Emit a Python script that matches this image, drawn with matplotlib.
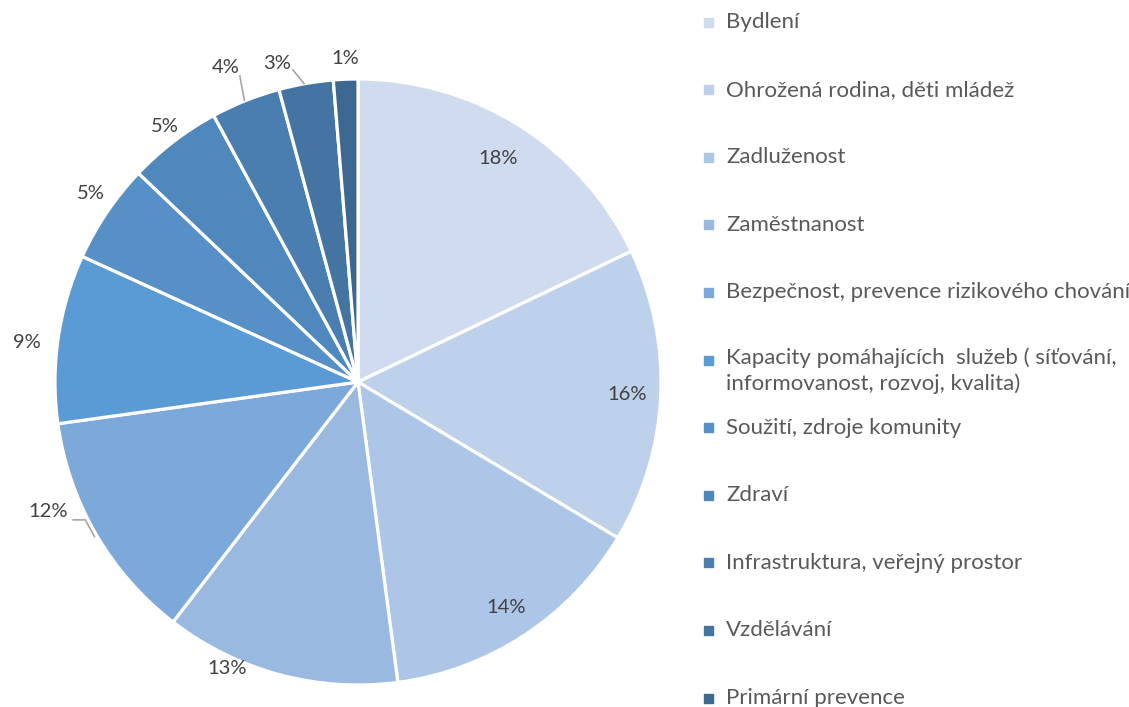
import numpy as np
import matplotlib.pyplot as plt

categories = [
    "Bydlení",
    "Ohrožená rodina, děti mládež",
    "Zadluženost",
    "Zaměstnanost",
    "Bezpečnost, prevence rizikového chování",
    "Kapacity pomáhajících  služeb ( síťování,\ninformovanost, rozvoj, kvalita)",
    "Soužití, zdroje komunity",
    "Zdraví",
    "Infrastruktura, veřejný prostor",
    "Vzdělávání",
    "Primární prevence",
]
shares = [17.9, 15.7, 14.3, 12.55, 12.35, 9.0, 5.3, 5.0, 3.7, 2.9, 1.3]

colors = ["#CFDCEF", "#BDD1EB", "#ADC6E7", "#9AB9E0", "#7CA9DA", "#5B9BD5",
          "#5690C7", "#4E88BC", "#4A7EB0", "#4474A1", "#3B6791"]

# label placement: radius factor and angle tweak (deg) per slice
label_r = [0.87, 0.89, 0.89, 1.04, 1.11, 1.10, 1.08, 1.056, 1.125, 1.086, 1.07]
label_da = [0, 0, 0, -9.5, -7.5, 1.5, -1.2, -0.4, 1.1, 4.4, 0]

W, H = 1129, 707
fig = plt.figure(figsize=(W / 100, H / 100), dpi=100)
cx, cy, R = 358, 382, 303
ax = fig.add_axes([(cx - R) / W, (H - cy - R) / H, 2 * R / W, 2 * R / H])

wedges, _ = ax.pie(shares, colors=colors, startangle=90, counterclock=False,
                   radius=1, wedgeprops=dict(edgecolor="white", linewidth=2.3))
ax.set_xlim(-1, 1)
ax.set_ylim(-1, 1)
ax.axis("off")

for i, w in enumerate(wedges):
    ang = np.deg2rad((w.theta1 + w.theta2) / 2 + label_da[i])
    x, y = label_r[i] * np.cos(ang), label_r[i] * np.sin(ang)
    ax.text(x, y, "%.0f%%" % shares[i], ha="center", va="center",
            fontsize=14.5, family="Lato", color="#404040", clip_on=False)

# leader lines for a few outside labels
ax.plot([-0.94, -0.90, -0.87], [-0.455, -0.455, -0.51], color="#A6A6A6", lw=1.2, clip_on=False)
ax.plot([-0.39, -0.375], [1.01, 0.93], color="#A6A6A6", lw=1.2, clip_on=False)
ax.plot([-0.215, -0.178], [1.03, 0.985], color="#A6A6A6", lw=1.2, clip_on=False)

# legend drawn entry by entry with a fixed pitch
y0, pitch = 22, 67.6
for i, (name, c) in enumerate(zip(categories, colors)):
    yy = y0 + i * pitch
    fig.patches.append(plt.Rectangle(((708 - 4.5) / W, (H - yy - 4.5) / H), 9 / W, 9 / H,
                                     transform=fig.transFigure, color=c, figure=fig))
    if "\n" in name:
        fig.text(726 / W, (H - yy + 13) / H, name, ha="left", va="top",
                 fontsize=16, family="Lato", color="#595959", linespacing=1.35)
    else:
        fig.text(726 / W, (H - yy) / H, name, ha="left", va="center",
                 fontsize=16, family="Lato", color="#595959")

fig.savefig("out.png", dpi=100)
